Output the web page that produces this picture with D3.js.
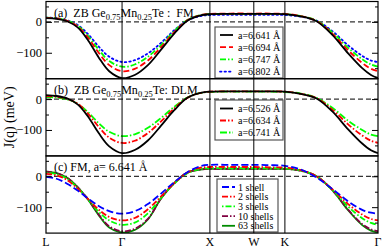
<!DOCTYPE html>
<html><head><meta charset="utf-8">
<script src="https://cdn.jsdelivr.net/npm/d3@7"></script>
<style>
body { margin: 0; background: #fff; }
text { font-family: "Liberation Serif", "DejaVu Serif", serif; fill: #000; }
</style>
</head><body>
<script>
// path positions along L-G-X-W-K-G (units of 2pi/a)
const kpos = [0, 0.12, 0.24, 0.36, 0.48, 0.6, 0.72, 0.866, 1.01, 1.16, 1.31, 1.46, 1.61, 1.76, 1.866,
  2.1, 2.366, 2.55, 2.72, 2.9, 3.08, 3.26, 3.44, 3.6, 3.7, 3.78];
const symPos = [0, 0.866, 1.866, 2.366, 2.72, 3.78];
const symLabels = ['L', 'Γ', 'X', 'W', 'K', 'Γ'];
const yMajor = [0, -100];
const yMinor = [50, -50, -150];

// (a) FM, several lattice constants
const fm6641 = [12, 10, 2, -18, -60, -115, -160, -182, -172, -140, -90, -38, 4, 21, 25, 26, 26, 26, 25, 18, 2, -42, -102, -150, -172, -182];
const fm6694 = [13, 11, 3, -15, -52, -100, -140, -160, -152, -125, -82, -34, 5, 22, 26, 27, 27, 27, 26, 19, 3, -38, -92, -133, -152, -160];
const fm6747 = [14, 12, 4, -12, -46, -90, -127, -145, -138, -113, -75, -30, 6, 22, 25, 26, 26, 26, 25, 19, 4, -34, -84, -121, -138, -145];
const fm6802 = [14, 12, 5, -10, -40, -80, -113, -130, -124, -102, -68, -27, 5, 19, 22, 23, 23, 23, 22, 17, 4, -30, -76, -110, -125, -130];

// (b) DLM
const dlm6526 = [13, 10, 2, -17, -57, -110, -153, -175, -165, -134, -86, -36, 4, 20, 24, 25, 25, 25, 24, 17, 2, -40, -98, -144, -166, -175];
const dlm6634 = [10, 8, 1, -15, -48, -90, -125, -142, -135, -110, -72, -30, 4, 20, 24, 25, 25, 25, 24, 17, 3, -34, -82, -118, -135, -142];
const dlm6741 = [6, 5, -1, -15, -43, -78, -106, -120, -114, -93, -61, -25, 5, 20, 23, 24, 24, 24, 23, 18, 4, -28, -70, -100, -115, -120];

// (c) FM a=6.641, number of shells
const sh1 = [-2, -8, -24, -46, -72, -96, -113, -121, -113, -90, -56, -19, 13, 33, 37, 37, 37, 36, 34, 22, -4, -41, -81, -109, -118, -121];
const sh2 = [8, 3, -12, -40, -74, -108, -132, -143, -135, -107, -65, -22, 12, 28, 30, 30, 30, 29, 28, 20, 0, -42, -90, -124, -138, -143];
const sh3 = [12, 7, -8, -38, -75, -115, -143, -157, -150, -120, -70, -24, 10, 24, 26, 26, 26, 26, 25, 19, 0, -44, -98, -136, -151, -157];
const sh10 = [15, 10, -5, -35, -75, -124, -162, -178, -170, -138, -72, -22, 12, 22, 24, 24, 24, 24, 24, 18, 0, -45, -108, -155, -172, -178];
const sh63 = [15, 10, -5, -35, -76, -126, -166, -182, -174, -140, -72, -22, 12, 22, 24, 24, 24, 24, 24, 18, 0, -45, -110, -158, -176, -182];

const panels = [
  { title: ['(a)  ZB Ge', '0.75', 'Mn', '0.25', 'Te :  FM'],
    legend: { x: 215, y: 27, w: 68, h: 51, dy: 12.2, y0: 8, fs: 10, tx: 23 },
    series: [
      { name: 'a=6.641 Å', v: fm6641, c: '#000', d: null },
      { name: 'a=6.694 Å', v: fm6694, c: '#f00', d: '6,3' },
      { name: 'a=6.747 Å', v: fm6747, c: '#0f0', d: '6,2,1.5,2' },
      { name: 'a=6.802 Å', v: fm6802, c: '#00f', d: '1.5,3' }
    ] },
  { title: ['(b)  ZB Ge', '0.75', 'Mn', '0.25', 'Te: DLM'],
    legend: { x: 215, y: 100, w: 68, h: 40, dy: 12, y0: 8.5, fs: 10, tx: 23 },
    series: [
      { name: 'a=6.526 Å', v: dlm6526, c: '#000', d: null },
      { name: 'a=6.634 Å', v: dlm6634, c: '#f00', d: '6,2,1.5,2' },
      { name: 'a=6.741 Å', v: dlm6741, c: '#0f0', d: '7,2,1.5,2' }
    ] },
  { title: ['(c) FM, a= 6.641 Å'],
    legend: { x: 217, y: 179, w: 61, h: 53, dy: 9.7, y0: 8, fs: 10, tx: 21 },
    series: [
      { name: '1 shell', v: sh1, c: '#00f', d: '7,3' },
      { name: '2 shells', v: sh2, c: '#f00', d: '6,2,1.5,2' },
      { name: '3 shells', v: sh3, c: '#0f0', d: '1.5,2,6,2' },
      { name: '10 shells', v: sh10, c: '#800040', d: '6,2,1.5,2' },
      { name: '63 shells', v: sh63, c: '#008b00', d: null }
    ] }
];

const W = 382, H = 248;
const left = 46, right = 378;
const tops = [1.5, 78.7, 155.9], ph = 77.2;
const bottom = tops[2] + ph;

const svg = d3.select('body').append('svg').attr('width', W).attr('height', H);

const x = d3.scaleLinear().domain([0, 3.78]).range([left, right]);

panels.forEach((p, i) => {
  const top = tops[i];
  const y = d3.scaleLinear().domain([-184, 66]).range([top + ph, top]);
  const g = svg.append('g');

  g.append('clipPath').attr('id', 'clip' + i)
    .append('rect').attr('x', left).attr('y', top).attr('width', right - left).attr('height', ph);

  g.append('line')
    .attr('x1', left).attr('x2', right).attr('y1', y(0)).attr('y2', y(0))
    .attr('stroke', '#333').attr('stroke-width', 1.2).attr('stroke-dasharray', '5,3');

  const line = d3.line().x((d, j) => x(kpos[j])).y(d => y(d)).curve(d3.curveCatmullRom.alpha(0.5));
  const curves = g.append('g').attr('clip-path', `url(#clip${i})`);
  p.series.slice().reverse().forEach(s => {
    curves.append('path').attr('d', line(s.v))
      .attr('fill', 'none').attr('stroke', s.c).attr('stroke-width', 1.8)
      .attr('stroke-dasharray', s.d).attr('stroke-linecap', s.d === '1.5,3' ? 'round' : 'butt');
  });

  // axes with inward ticks
  const ax = [
    d3.axisLeft(y).tickValues(yMajor).tickSizeInner(-6).tickSizeOuter(0).tickPadding(4),
    d3.axisLeft(y).tickValues(yMinor).tickSizeInner(-3).tickSizeOuter(0).tickFormat(''),
    d3.axisRight(y).tickValues(yMajor).tickSizeInner(-6).tickSizeOuter(0).tickFormat(''),
    d3.axisRight(y).tickValues(yMinor).tickSizeInner(-3).tickSizeOuter(0).tickFormat('')
  ];
  ax.forEach((a, k) => {
    const ag = g.append('g').attr('transform', `translate(${k < 2 ? left : right},0)`).call(a);
    ag.select('.domain').remove();
    ag.selectAll('line').attr('stroke', '#000');
    ag.selectAll('text').attr('font-size', 12.5).attr('font-family', '"Liberation Serif", serif');
  });

  // title
  const t = g.append('text').attr('x', 54).attr('y', top + 15).attr('font-size', 12)
    .attr('xml:space', 'preserve').style('white-space', 'pre');
  p.title.forEach((s, k) => {
    const sub = k % 2 === 1;
    t.append('tspan').text(s)
      .attr('font-size', sub ? 8.5 : 12)
      .attr('dy', sub ? 3 : (k > 0 ? -3 : 0));
  });

  // legend
  const L = p.legend;
  const lg = g.append('g');
  lg.append('rect').attr('x', L.x).attr('y', L.y).attr('width', L.w).attr('height', L.h)
    .attr('fill', '#fff').attr('stroke', '#555').attr('stroke-width', 1.2);
  p.series.forEach((s, k) => {
    const yy = L.y + L.y0 + k * L.dy;
    lg.append('line').attr('x1', L.x + 5).attr('x2', L.x + 18).attr('y1', yy).attr('y2', yy)
      .attr('stroke', s.c).attr('stroke-width', 1.8).attr('stroke-dasharray', s.d)
      .attr('stroke-linecap', s.d === '1.5,3' ? 'round' : 'butt');
    lg.append('text').attr('x', L.x + L.tx).attr('y', yy + 3.5).attr('font-size', L.fs).text(s.name);
  });

  g.append('rect').attr('x', left).attr('y', top).attr('width', right - left).attr('height', ph)
    .attr('fill', 'none').attr('stroke', '#000').attr('stroke-width', 1.2);
});

// high-symmetry verticals and labels
svg.selectAll('.sym').data(symPos.slice(1, -1)).join('line')
  .attr('x1', d => x(d)).attr('x2', d => x(d)).attr('y1', tops[0]).attr('y2', bottom)
  .attr('stroke', '#000').attr('stroke-width', 1);

svg.selectAll('.symlab').data(symPos).join('text')
  .attr('x', d => x(d)).attr('y', 246).attr('text-anchor', 'middle').attr('font-size', 12)
  .text((d, i) => symLabels[i]);

svg.append('text').attr('transform', `translate(14,${(tops[0] + bottom) / 2}) rotate(-90)`)
  .attr('text-anchor', 'middle').attr('font-size', 14).text('J(q) (meV)');
</script>
</body></html>
